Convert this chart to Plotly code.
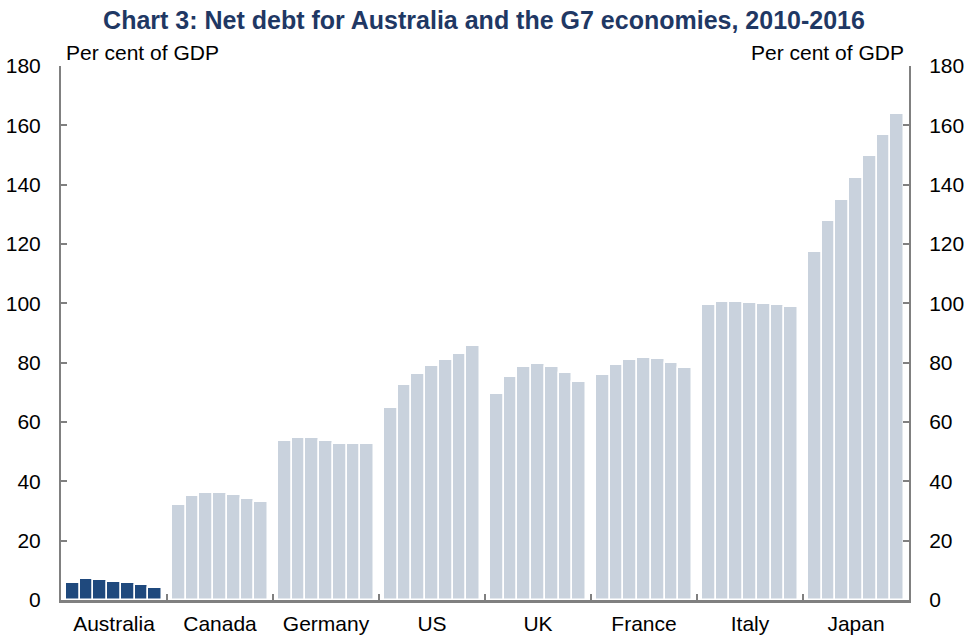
import plotly.graph_objects as go

# Net debt, per cent of GDP, 2010-2016 for each economy
countries = ["Australia", "Canada", "Germany", "US", "UK", "France", "Italy", "Japan"]
years = [2010, 2011, 2012, 2013, 2014, 2015, 2016]
australia = [5.7, 7.1, 6.6, 6.2, 5.6, 5.1, 3.9]
canada = [32.0, 35.1, 36.1, 36.1, 35.4, 34.1, 32.9]
germany = [53.6, 54.6, 54.6, 53.7, 52.5, 52.5, 52.5]
us = [64.6, 72.5, 76.3, 78.9, 80.9, 83.0, 85.5]
uk = [69.3, 75.1, 78.5, 79.4, 78.5, 76.4, 73.4]
france = [75.8, 79.2, 81.0, 81.7, 81.1, 79.9, 78.2]
italy = [99.4, 100.5, 100.3, 100.0, 99.8, 99.3, 98.8]
japan = [117.3, 127.7, 135.0, 142.2, 149.5, 156.6, 163.8]
series = [australia, canada, germany, us, uk, france, italy, japan]

y_ticks = [0, 20, 40, 60, 80, 100, 120, 140, 160, 180]

NAVY = "#1F497D"
LIGHT = "#C9D2DD"
AXIS = "#808080"
FONT = "Liberation Sans, Arial, sans-serif"

n_bars = len(years)
group_w = n_bars + 0.75  # seven bars plus the gap between groups
offset = 0.375

fig = go.Figure()
for g, (name, vals) in enumerate(zip(countries, series)):
    xs = [g * group_w + offset + j + 0.5 for j in range(n_bars)]
    fig.add_trace(go.Bar(
        x=xs, y=vals, width=1.0,
        marker=dict(color=NAVY if name == "Australia" else LIGHT,
                    line=dict(color="white", width=1.5)),
        name=name, showlegend=False,
        hovertext=[f"{name} {yr}" for yr in years],
    ))

# invisible trace carrying the secondary axes (right-hand scale, group ticks)
fig.add_trace(go.Scatter(x=[0, group_w * len(countries)], y=[0, 180],
                         xaxis="x2", yaxis="y2", mode="markers",
                         marker=dict(opacity=0), showlegend=False,
                         hoverinfo="skip"))

centers = [g * group_w + group_w / 2 for g in range(len(countries))]
bounds = [g * group_w for g in range(1, len(countries))]
x_range = [0, group_w * len(countries)]

fig.update_layout(
    width=968, height=639,
    margin=dict(l=61, r=59, t=66, b=39, autoexpand=False),
    paper_bgcolor="white", plot_bgcolor="white",
    bargap=0,
    font=dict(family=FONT, size=21, color="black"),
    title=dict(text="<b>Chart 3: Net debt for Australia and the G7 economies, 2010-2016</b>",
               x=0.5, xanchor="center", y=0.969, yanchor="middle",
               font=dict(family=FONT, size=25, color="#1F3864")),
    xaxis=dict(range=x_range, tickvals=centers, ticktext=countries,
               ticks="", showline=True, linecolor=AXIS, linewidth=3,
               showgrid=False, zeroline=False, fixedrange=True, automargin=False,
               ticklabelstandoff=3, tickfont=dict(size=21)),
    xaxis2=dict(range=x_range, overlaying="x", side="bottom", anchor="y",
                tickvals=bounds, ticks="inside", ticklen=6, tickwidth=2,
                tickcolor=AXIS, showticklabels=False, showline=False,
                showgrid=False, zeroline=False, automargin=False),
    yaxis=dict(range=[0, 180], tickvals=y_ticks, ticks="inside", ticklen=6,
               tickwidth=2, tickcolor=AXIS, showline=True, linecolor=AXIS,
               linewidth=2, showgrid=False, zeroline=False, automargin=False,
               ticklabelstandoff=14, tickfont=dict(size=21)),
    yaxis2=dict(range=[0, 180], tickvals=y_ticks, overlaying="y", side="right",
                anchor="x", ticks="inside", ticklen=6, tickwidth=2,
                tickcolor=AXIS, showline=True, linecolor=AXIS, linewidth=2,
                showgrid=False, zeroline=False, automargin=False,
                ticklabelstandoff=14, tickfont=dict(size=21)),
    annotations=[
        dict(text="Per cent of GDP", xref="paper", yref="paper", x=0.003, y=1.0,
             xanchor="left", yanchor="bottom", showarrow=False,
             font=dict(family=FONT, size=21)),
        dict(text="Per cent of GDP", xref="paper", yref="paper", x=0.997, y=1.0,
             xanchor="right", yanchor="bottom", showarrow=False,
             font=dict(family=FONT, size=21)),
    ],
)

fig.write_html("out.html")
